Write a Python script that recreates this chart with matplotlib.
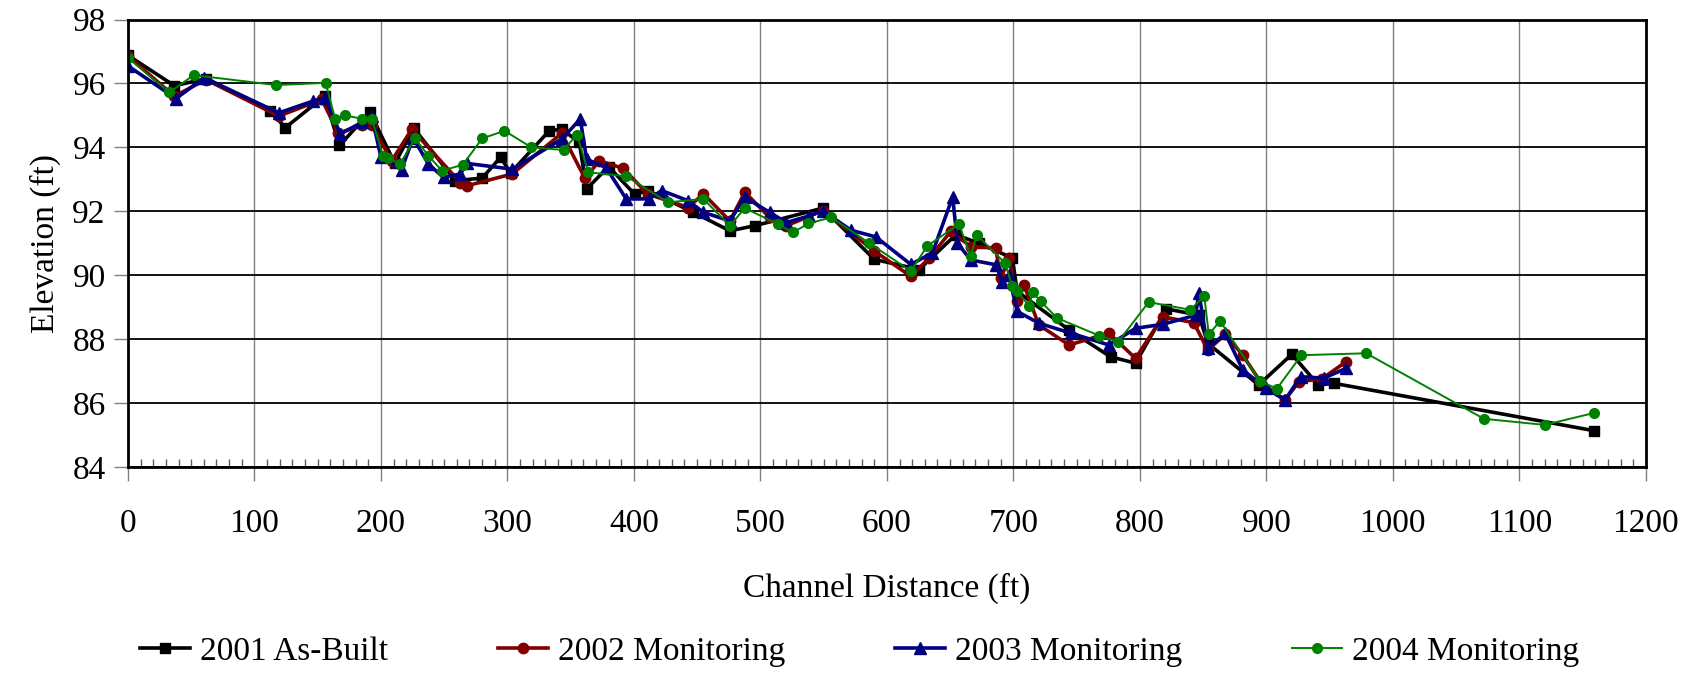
import matplotlib.pyplot as plt
from matplotlib.ticker import MultipleLocator

plt.rcParams['font.family'] = ['Liberation Serif', 'DejaVu Serif']

# 2001 As-Built
x2001 = [0, 36.7, 62, 112, 124.5, 155.4, 167.2, 191.3, 211, 226, 258.8, 280, 294.6, 302.5,
         333, 343, 356.8, 362.6, 380, 400.5, 411, 447, 475.9, 495.5, 549.3, 590, 625.5,
         654.5, 672.9, 699.2, 703, 744, 776.8, 796.6, 821, 846.7, 853.7, 893.9, 920.2,
         941, 953.5, 1158.8]
y2001 = [96.88, 95.93, 96.15, 95.15, 94.62, 95.6, 94.06, 95.1, 93.5, 94.6, 92.96, 93.04, 93.69, 93.2,
         94.52, 94.57, 94.16, 92.7, 93.4, 92.54, 92.65, 91.97, 91.39, 91.55, 92.1, 90.5, 90.18,
         91.27, 91.0, 90.54, 89.5, 88.29, 87.45, 87.25, 88.95, 88.75, 87.87, 86.57, 87.53,
         86.57, 86.62, 85.14]

# 2002 Monitoring
x2002 = [0, 36.7, 61.6, 119.3, 153.3, 166.4, 184.8, 192.7, 208.5, 224.4, 262.8, 268, 303.8,
         343, 361.3, 372.7, 391.3, 411, 443, 454.9, 475.9, 487.7, 507.3, 520.5, 549.3, 590,
         618.9, 633.5, 650.5, 666.3, 686, 690, 696.6, 703, 708.4, 720, 744, 775.5, 796.6,
         818, 842.6, 853.7, 867.5, 881.4, 895.3, 914.7, 925.8, 943.8, 963.2]
y2002 = [96.86, 95.6, 96.12, 94.98, 95.5, 94.44, 94.7, 94.7, 93.58, 94.57, 92.9, 92.8, 93.17,
         94.44, 93.03, 93.58, 93.35, 92.54, 92.12, 92.55, 91.7, 92.6, 91.81, 91.55, 92.02, 90.76,
         89.97, 90.54, 91.37, 90.9, 90.85, 89.9, 90.54, 89.18, 89.7, 88.45, 87.82, 88.19, 87.4,
         88.7, 88.52, 87.66, 88.15, 87.5, 86.67, 86.1, 86.67, 86.76, 87.3]

# 2003 Monitoring
x2003 = [0, 38, 60.3, 119.3, 146.3, 156, 167.8, 184.8, 192.7, 200, 216.3, 225.4, 237.6, 249.5,
         262.8, 268, 303.8, 343, 357.6, 362.6, 378, 393.9, 411.9, 422, 443, 454.9, 475.9,
         487.7, 507.3, 520.5, 538.8, 549.3, 571.6, 591.3, 618.9, 636, 652, 655.8, 666.3,
         686, 691.3, 696.6, 703, 720.3, 745.3, 775.5, 796.6, 818.5, 844, 846.7, 853.7,
         867.5, 881.4, 899.4, 914.7, 927.2, 945.2, 963.2]
y2003 = [96.55, 95.53, 96.18, 95.08, 95.45, 95.56, 94.42, 94.78, 94.99, 93.7, 93.3, 94.3, 93.48, 93.06,
         93.17, 93.5, 93.32, 94.26, 94.89, 93.63, 93.37, 92.39, 92.39, 92.65, 92.33, 91.97, 91.7,
         92.44, 91.97, 91.65, 91.86, 92.02, 91.41, 91.2, 90.34, 90.7, 92.45, 91.0, 90.48,
         90.33, 89.8, 90.0, 88.87, 88.5, 88.19, 87.82, 88.34, 88.47, 88.75, 89.45, 87.71,
         88.18, 87.04, 86.47, 86.1, 86.83, 86.78, 87.09]

# 2004 Monitoring
x2004 = [0, 32.8, 51.9, 117.4, 156.3, 163.8, 171.4, 184.8, 192.7, 201.8, 205.8, 215, 227, 237.6,
         248.2, 264.9, 280, 297.7, 319, 344.4, 355, 364, 393.9, 427, 454.9, 475.9, 487.7,
         513.9, 525.7, 538, 555.9, 585.6, 618.9, 632, 657, 666.3, 670.9, 693.4, 699.2, 702.6,
         712.4, 715.5, 721.6, 734.7, 768, 782.9, 807, 840, 850.9, 854.5, 863.4, 894.7,
         908.3, 927.7, 979, 1072, 1120, 1158.8]
y2004 = [96.8, 95.72, 96.26, 95.95, 96.02, 94.89, 95.0, 94.9, 94.9, 93.72, 93.68, 93.48, 94.28, 93.74,
         93.27, 93.46, 94.28, 94.52, 94.0, 93.92, 94.4, 93.22, 93.1, 92.28, 92.39, 91.55, 92.1,
         91.6, 91.34, 91.62, 91.81, 91.02, 90.13, 90.92, 91.6, 90.59, 91.27, 90.38, 89.65, 89.51,
         89.05, 89.47, 89.18, 88.66, 88.11, 87.92, 89.16, 88.92, 89.35, 88.15, 88.57, 86.7,
         86.45, 87.5, 87.56, 85.51, 85.32, 85.69]

fig = plt.figure(figsize=(16.99, 6.74), dpi=100)
ax = fig.add_axes([0.0753, 0.307, 0.8934, 0.664])

ax.plot(x2001, y2001, color='black', linewidth=2.6, marker='s', markersize=7, label='2001 As-Built')
ax.plot(x2002, y2002, color='#800000', linewidth=2.6, marker='o', markersize=7.5, label='2002 Monitoring')
ax.plot(x2003, y2003, color='#000080', linewidth=2.6, marker='^', markersize=8.5, label='2003 Monitoring')
ax.plot(x2004, y2004, color='#008000', linewidth=1.4, marker='o', markersize=7, label='2004 Monitoring')

ax.set_xlim(0, 1200)
ax.set_ylim(84, 98)
ax.xaxis.set_major_locator(MultipleLocator(100))
ax.xaxis.set_minor_locator(MultipleLocator(10))
ax.yaxis.set_major_locator(MultipleLocator(2))

ax.grid(axis='x', which='major', color='#808080', linewidth=1.0)
ax.grid(axis='y', which='major', color='black', linewidth=1.3)
ax.set_axisbelow(True)

for s in ax.spines.values():
    s.set_linewidth(2)

ax.tick_params(axis='both', which='major', direction='out', length=10, width=1, color='#808080',
               labelsize=24, pad=6)
ax.tick_params(axis='x', which='major', pad=20)
ax.tick_params(axis='x', which='minor', direction='in', length=6, width=1, color='#606060')

ax.set_xlabel('Channel Distance (ft)', fontsize=24, labelpad=24)
ax.set_ylabel('Elevation (ft)', fontsize=24, labelpad=8)

fig.legend(loc='center', bbox_to_anchor=(0.506, 0.033), ncol=4, frameon=False,
           fontsize=24, handlelength=1.5, handletextpad=0.3, columnspacing=3.3)

fig.savefig('out.png', dpi=100)
